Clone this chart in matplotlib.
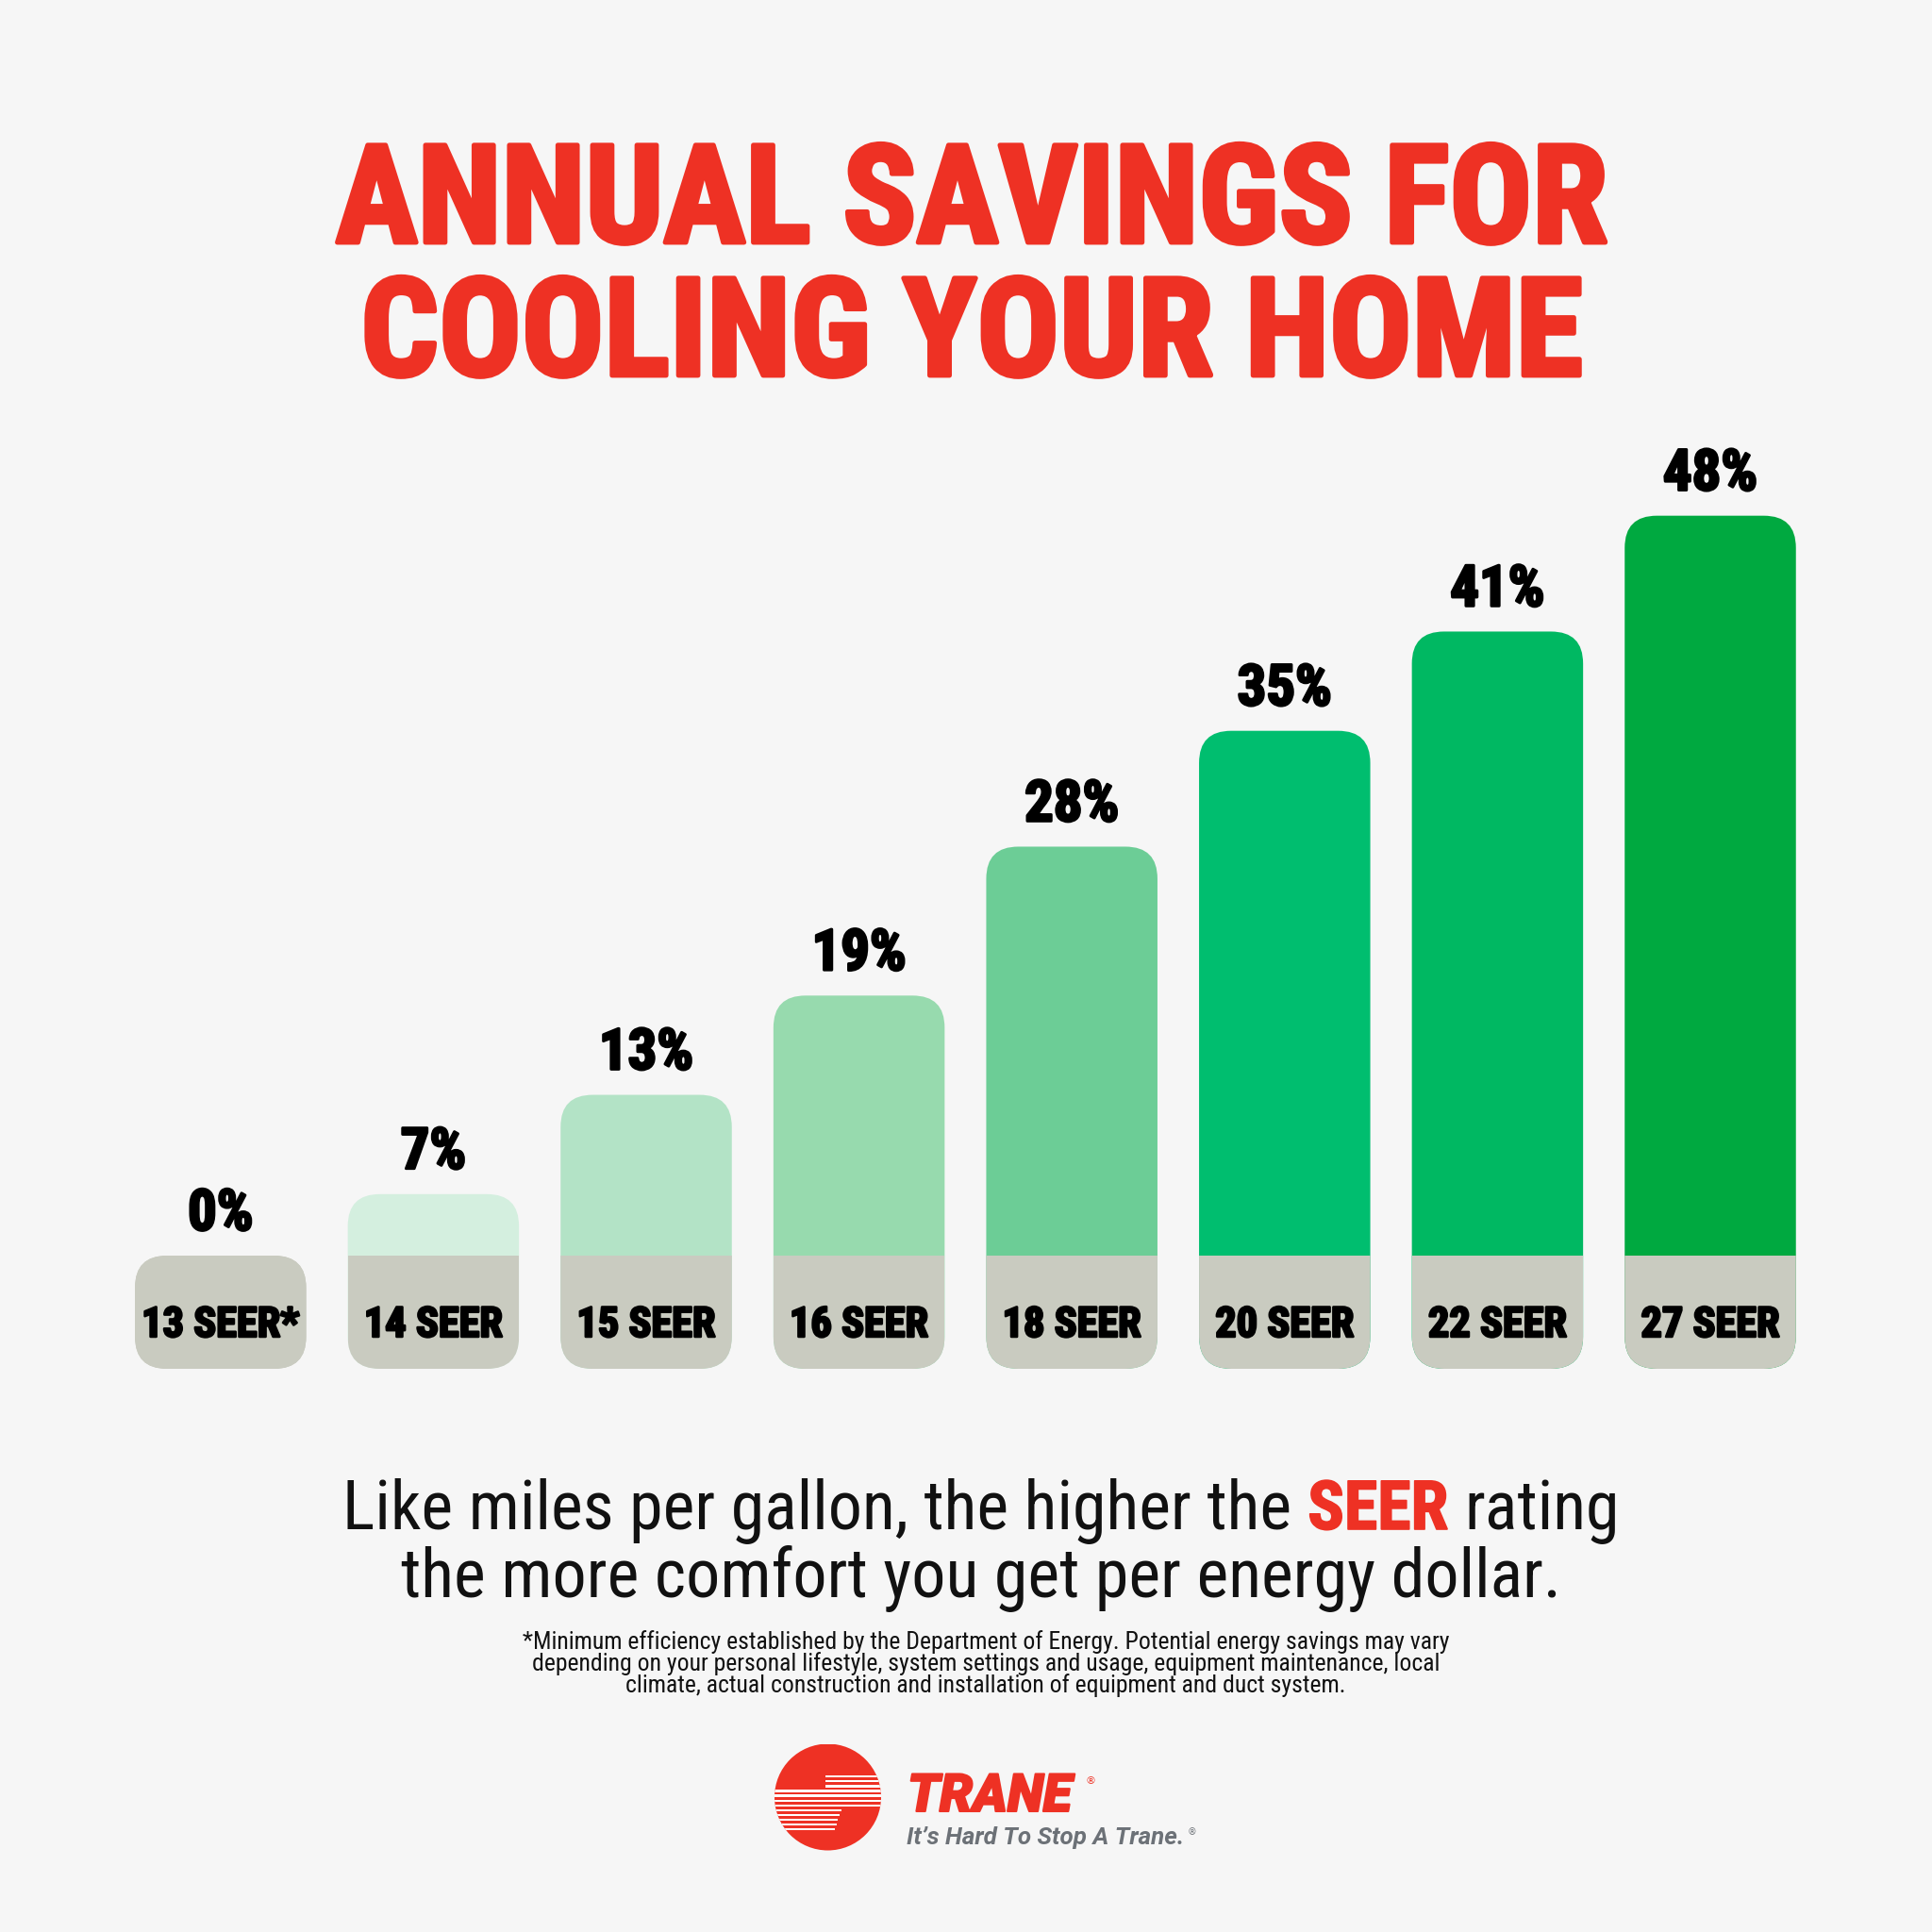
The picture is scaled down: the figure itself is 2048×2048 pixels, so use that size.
import matplotlib
matplotlib.use("Agg")
import matplotlib.pyplot as plt
import matplotlib.patheffects as pe
from matplotlib import font_manager
from matplotlib.patches import FancyBboxPatch, Rectangle, Circle

# data
categories = ["13 SEER*", "14 SEER", "15 SEER", "16 SEER", "18 SEER", "20 SEER", "22 SEER", "27 SEER"]
savings = [0, 7, 13, 19, 28, 35, 41, 48]

title_lines = ["ANNUAL SAVINGS FOR", "COOLING YOUR HOME"]
sub_line1 = ["Like miles per gallon, the higher the", "SEER", "rating"]
sub_line2 = "the more comfort you get per energy dollar."
footnote = ["*Minimum efficiency established by the Department of Energy. Potential energy savings may vary",
            "depending on your personal lifestyle, system settings and usage, equipment maintenance, local",
            "climate, actual construction and installation of equipment and duct system."]

# styles
BG = "#F6F6F6"
RED = "#EE3124"
GREY = "#C9CBC0"
bar_colors = [GREY, "#D4EFDF", "#B3E3C6", "#97DAAE", "#6CCD96", "#00BE6F", "#00B862", "#00A940"]

names = {f.name for f in font_manager.fontManager.ttflist}


def first(*cands):
    for n in cands:
        if n in names:
            return n
    return "DejaVu Sans"


NARROW = first("Roboto Condensed", "Liberation Sans Narrow", "Roboto")
LOGO = first("Roboto", "Liberation Sans")
plt.rcParams["font.family"] = [NARROW, "DejaVu Sans"]

W = 2048
fig = plt.figure(figsize=(20.48, 20.48), dpi=100, facecolor=BG)
rend = fig.canvas.get_renderer()


def fx(x):
    return x / W


def fy(y):
    return 1 - y / W


def width(t):
    return t.get_window_extent(rend).width


def fit(t, target):
    t.set_fontsize(t.get_fontsize() * target / width(t))
    return t.get_fontsize()


def heavy(color, lw):
    # thicken the bold face a little, the original lettering is a black weight
    return [pe.withStroke(linewidth=lw, foreground=color)]


# title
t = fig.text(fx(1030), fy(257), title_lines[0], ha="center", va="baseline", color=RED,
             fontsize=100, weight="black")
ts = fit(t, 1348)
t.set_path_effects(heavy(RED, 3.5))
fig.text(fx(1030), fy(398), title_lines[1], ha="center", va="baseline", color=RED,
         fontsize=ts, weight="black", path_effects=heavy(RED, 3.5))

# bars: axis mapped so 0 sits at y=1388.6px, 17.54 px per percent, 225.6 px per bar
PX_Y = 17.54
PX_X = 225.6
Y0 = 1388.6
ax_top, ax_bot = 400, 1500
ax = fig.add_axes([fx(233.8 - PX_X / 2), fy(ax_bot), 8 * PX_X / W, (ax_bot - ax_top) / W])
ax.set_xlim(-0.5, 7.5)
ax.set_ylim((Y0 - ax_bot) / PX_Y, (Y0 - ax_top) / PX_Y)
ax.axis("off")
ax.patch.set_alpha(0)

BW = 181.5 / PX_X
TAB_TOP = (Y0 - 1331) / PX_Y
TAB_BOT = (Y0 - 1451) / PX_Y
RX = 34 / PX_X
ASP = PX_X / PX_Y

for i, (cat, v) in enumerate(zip(categories, savings)):
    top = max(v, TAB_TOP)
    outline = FancyBboxPatch((i - BW / 2, TAB_BOT), BW, top - TAB_BOT,
                             boxstyle=f"round,pad=0,rounding_size={RX}", mutation_aspect=ASP,
                             fc=bar_colors[i], ec="none")
    ax.add_patch(outline)
    tab = Rectangle((i - BW / 2, TAB_BOT), BW, TAB_TOP - TAB_BOT, fc=GREY, ec="none")
    ax.add_patch(tab)
    tab.set_clip_path(outline)

pct = [ax.annotate(f"{v}%", xy=(i, max(v, TAB_TOP)), xytext=(0, 19.5), textcoords="offset points",
                   ha="center", va="baseline", fontsize=40, weight="black", color="black",
                   path_effects=heavy("black", 2))
       for i, v in enumerate(savings)]
ps = fit(pct[-1], 100)
for p in pct:
    p.set_fontsize(ps)

labs = [ax.text(i, (Y0 - 1417) / PX_Y, c, ha="center", va="baseline", fontsize=30,
                weight="black", color="black", path_effects=heavy("black", 1.8))
        for i, c in enumerate(categories)]
ls = fit(labs[1], 147)
for l in labs:
    l.set_fontsize(ls)

# subtitle with red SEER
parts = [fig.text(0, fy(1621), s, ha="left", va="baseline", fontsize=40,
                  color=RED if s == "SEER" else "#111111", weight="bold" if s == "SEER" else "normal")
         for s in sub_line1]
sp = fig.text(0, 0, "a a", fontsize=40)
sp0 = fig.text(0, 0, "aa", fontsize=40)
total = sum(width(p) for p in parts) + 2 * (width(sp) - width(sp0))
ss = 40 * 1352 / total
for p in parts + [sp, sp0]:
    p.set_fontsize(ss)
gap = width(sp) - width(sp0)
sp.remove()
sp0.remove()
total = sum(width(p) for p in parts) + 2 * gap
x = 1040 - total / 2
for p in parts:
    p.set_x(fx(x))
    x += width(p) + gap
parts[1].set_path_effects(heavy(RED, 1.2))
fig.text(fx(1040), fy(1693), sub_line2, ha="center", va="baseline", fontsize=ss, color="#111111")

# footnote
fn = [fig.text(fx(1045), fy(1748 + 23 * k), s, ha="center", va="baseline", fontsize=14, color="#111111")
      for k, s in enumerate(footnote)]
fs = fit(fn[0], 993)
for f in fn:
    f.set_fontsize(fs)

# logo
R = 56.5
lax = fig.add_axes([fx(877.5 - R), fy(1905 + R), 2 * R / W, 2 * R / W])
lax.set_xlim(-1, 1)
lax.set_ylim(-1, 1)
lax.set_aspect("equal")
lax.axis("off")
circ = Circle((0, 0), 1, fc=RED, ec="none")
lax.add_patch(circ)
for k in range(12):
    yr = -(-0.385 + 0.09 * k)
    x0, x1 = (-0.05, 1.0) if k < 3 else ((-1.0, 1.0) if k < 7 else (-1.0, 0.25 - 0.03 * (k - 7)))
    s = Rectangle((x0, yr - 0.02), x1 - x0, 0.04, fc="white", ec="none")
    lax.add_patch(s)
    s.set_clip_path(circ)

tr = fig.text(fx(962), fy(1920), "TRANE", ha="left", va="baseline", color=RED, fontsize=30,
              family=[LOGO, "DejaVu Sans"], weight="black", style="italic")
fit(tr, 174)
tr.set_path_effects(heavy(RED, 1.5))
fig.text(fx(1150), fy(1888), "®", ha="left", va="center", color=RED, fontsize=8, family=["DejaVu Sans"])
tg = fig.text(fx(961), fy(1955), "It’s Hard To Stop A Trane.", ha="left", va="baseline", color="#6C7177",
              fontsize=18, family=[LOGO, "DejaVu Sans"], weight="bold", style="italic")
fit(tg, 294)
fig.text(fx(1259), fy(1942), "®", ha="left", va="center", color="#6C7177", fontsize=7, family=["DejaVu Sans"])

fig.savefig("out.png", dpi=100, facecolor=BG)
